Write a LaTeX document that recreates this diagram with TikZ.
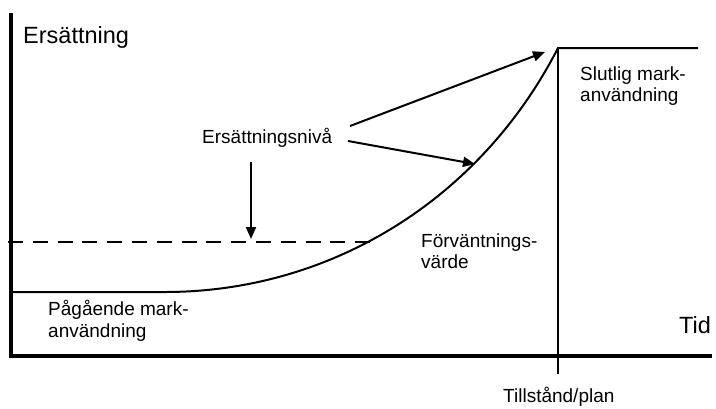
\documentclass[tikz,border=0pt]{standalone}
\usepackage{fontspec}
\setmainfont{Liberation Sans}
\usetikzlibrary{arrows.meta}
\begin{document}
\begin{tikzpicture}[x=1pt,y=-1pt,
  lbl/.style={anchor=base west, inner sep=0pt, font=\fontsize{19}{21}\selectfont},
  biglbl/.style={anchor=base west, inner sep=0pt, font=\fontsize{23.5}{28}\selectfont},
  axis/.style={line width=3.2pt},
  curveline/.style={line width=2pt},
  arr/.style={line width=2pt, -{Triangle[length=12pt,width=10pt]}}]
\useasboundingbox (0,0) rectangle (716,408);
% axes
\coordinate (ytop) at (11,13);
\coordinate (orig) at (11,356);
\coordinate (xend) at (712,356);
\draw[axis] (ytop) -- (orig) -- (xend);
% curve
\coordinate (p0) at (12,292);
\coordinate (p1) at (165,292);
\coordinate (p2) at (558,48);
\coordinate (p3) at (698,48);
\coordinate (tickend) at (558,374);
\draw[curveline] (p0) -- (p1) .. controls (330,292) and (480,200) .. (p2) -- (p3);
\draw[line width=1.5pt] (p2) -- (tickend);
% dashed level
\coordinate (d0) at (8,242);
\coordinate (d1) at (370,242);
\draw[line width=2pt, dash pattern=on 15pt off 9.8pt] (d0) -- (d1);
% labels
\node[biglbl] (ers) at (23,43) {Ersättning};
\node[biglbl] (tid) at (679,333) {Tid};
\node[lbl] (niva) at (202,143) {Ersättningsnivå};
\node[lbl] (slut1) at (580,80) {Slutlig mark-};
\node[lbl] (slut2) at (580,101) {användning};
\node[lbl] (forv1) at (421,247) {Förväntnings-};
\node[lbl] (forv2) at (421,268) {värde};
\node[lbl] (pag1) at (48,315) {Pågående mark-};
\node[lbl] (pag2) at (48,337) {användning};
\node[lbl] (till) at (503,402) {Tillstånd/plan};
% arrows
\coordinate (a1s) at (350,126);
\coordinate (a1e) at (545,52);
\coordinate (a2s) at (348,141);
\coordinate (a2e) at (475,164);
\coordinate (a3s) at (251,162);
\coordinate (a3e) at (251,239);
\draw[arr] (a1s) -- (a1e);
\draw[arr] (a2s) -- (a2e);
\draw[arr] (a3s) -- (a3e);
\end{tikzpicture}
\end{document}
